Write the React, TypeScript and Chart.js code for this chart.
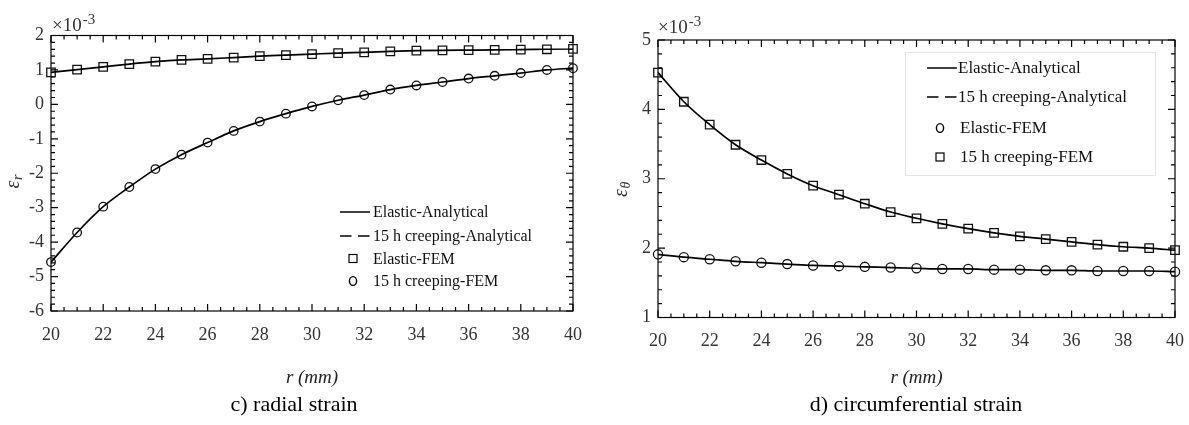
import React, { useEffect, useRef } from 'react';
import { Chart, registerables } from 'chart.js';

Chart.register(...registerables);

// ---------- data ----------
const radiusMm = [20, 21, 22, 23, 24, 25, 26, 27, 28, 29, 30, 31, 32, 33, 34, 35, 36, 37, 38, 39, 40];

// radial strain (x 10^-3)
const radialElasticFEM = [0.93, 1.01, 1.09, 1.17, 1.24, 1.29, 1.32, 1.36, 1.40, 1.43, 1.46, 1.49, 1.51, 1.54, 1.56, 1.57, 1.575, 1.58, 1.59, 1.60, 1.61];
const radialCreepFEM = [-4.58, -3.72, -2.97, -2.40, -1.88, -1.46, -1.11, -0.77, -0.50, -0.27, -0.06, 0.12, 0.27, 0.43, 0.55, 0.65, 0.75, 0.83, 0.91, 1.00, 1.05];
const radialElasticAnalytical = [0.93, 1.01, 1.09, 1.17, 1.24, 1.29, 1.32, 1.36, 1.40, 1.43, 1.46, 1.49, 1.51, 1.54, 1.56, 1.57, 1.575, 1.58, 1.59, 1.60, 1.61];
const radialCreepAnalytical = [-4.58, -3.72, -2.97, -2.40, -1.88, -1.46, -1.11, -0.77, -0.50, -0.27, -0.06, 0.12, 0.27, 0.43, 0.55, 0.65, 0.75, 0.83, 0.91, 1.00, 1.05];

// circumferential strain (x 10^-3)
const hoopElasticFEM = [1.91, 1.87, 1.84, 1.81, 1.79, 1.77, 1.75, 1.74, 1.73, 1.72, 1.71, 1.70, 1.70, 1.69, 1.69, 1.68, 1.68, 1.67, 1.67, 1.67, 1.66];
const hoopCreepFEM = [4.53, 4.11, 3.78, 3.49, 3.27, 3.07, 2.90, 2.77, 2.64, 2.52, 2.43, 2.35, 2.28, 2.22, 2.17, 2.13, 2.09, 2.05, 2.02, 2.00, 1.97];
const hoopElasticAnalytical = [1.91, 1.87, 1.84, 1.81, 1.79, 1.77, 1.75, 1.74, 1.73, 1.72, 1.71, 1.70, 1.70, 1.69, 1.69, 1.68, 1.68, 1.67, 1.67, 1.67, 1.66];
const hoopCreepAnalytical = [4.53, 4.11, 3.78, 3.49, 3.27, 3.07, 2.90, 2.77, 2.64, 2.52, 2.43, 2.35, 2.28, 2.22, 2.17, 2.13, 2.09, 2.05, 2.02, 2.00, 1.97];

const xTickValues = [20, 22, 24, 26, 28, 30, 32, 34, 36, 38, 40];
const radialYTicks = [-6, -5, -4, -3, -2, -1, 0, 1, 2];
const hoopYTicks = [1, 2, 3, 4, 5];
const legendLabels = ['Elastic-Analytical', '15 h creeping-Analytical', 'Elastic-FEM', '15 h creeping-FEM'];

const SERIF = '"Liberation Serif", "Times New Roman", serif';

function pts(ys: number[]) {
  return radiusMm.map((x, i) => ({ x, y: ys[i] }));
}

// ---------- decoration plugin (box, inward ticks, legend, labels) ----------
const decorPlugin = {
  id: 'decor',
  beforeDatasetsDraw(chart: any) {
    const { ctx, chartArea: a, scales } = chart;
    const xs = scales.x;
    const ys = scales.y;
    ctx.save();
    ctx.strokeStyle = '#000';
    ctx.lineWidth = 1.2;
    ctx.strokeRect(a.left, a.top, a.right - a.left, a.bottom - a.top);
    ctx.beginPath();
    const nx = Math.round((xs.max - xs.min) / 0.5);
    for (let i = 0; i <= nx; i++) {
      const v = xs.min + i * 0.5;
      const len = i % 4 === 0 ? 7 : 4;
      const p = xs.getPixelForValue(v);
      ctx.moveTo(p, a.bottom);
      ctx.lineTo(p, a.bottom - len);
      ctx.moveTo(p, a.top);
      ctx.lineTo(p, a.top + len);
    }
    const ny = Math.round((ys.max - ys.min) * 5);
    for (let i = 0; i <= ny; i++) {
      const v = ys.min + i / 5;
      const len = i % 5 === 0 ? 7 : 4;
      const p = ys.getPixelForValue(v);
      ctx.moveTo(a.left, p);
      ctx.lineTo(a.left + len, p);
      ctx.moveTo(a.right, p);
      ctx.lineTo(a.right - len, p);
    }
    ctx.stroke();
    ctx.restore();
  },
  afterDraw(chart: any, _args: any, o: any) {
    const { ctx } = chart;
    ctx.save();
    // legend
    const L = o.legend;
    if (L.frame) {
      ctx.fillStyle = '#fff';
      ctx.fillRect(L.frame.x, L.frame.y, L.frame.w, L.frame.h);
      ctx.strokeStyle = '#e4e4e4';
      ctx.lineWidth = 1;
      ctx.strokeRect(L.frame.x + 0.5, L.frame.y + 0.5, L.frame.w, L.frame.h);
    }
    ctx.font = `${L.fontSize}px ${SERIF}`;
    ctx.textBaseline = 'middle';
    ctx.textAlign = 'left';
    chart.data.datasets.forEach((ds: any, i: number) => {
      const y = L.rows[i];
      ctx.strokeStyle = '#000';
      ctx.lineWidth = 1.5;
      ctx.setLineDash([]);
      let tx = L.textX;
      if (ds.legendKind === 'solid' || ds.legendKind === 'dashed') {
        if (ds.legendKind === 'dashed') ctx.setLineDash([11.5, 6.5]);
        ctx.beginPath();
        ctx.moveTo(L.lineStart, y);
        ctx.lineTo(L.lineEnd, y);
        ctx.stroke();
        ctx.setLineDash([]);
      } else if (ds.legendKind === 'rect') {
        ctx.lineWidth = 1.2;
        ctx.strokeRect(L.markerX - 4, y - 4, 8, 8);
        tx = L.markerTextX;
      } else {
        ctx.lineWidth = 1.4;
        ctx.beginPath();
        ctx.ellipse(L.markerX, y, 3.6, 4.4, 0, 0, Math.PI * 2);
        ctx.stroke();
        tx = L.markerTextX;
      }
      ctx.fillStyle = '#111';
      ctx.fillText(ds.label, tx, y + 1);
    });
    // x10^-3 multiplier
    const M = o.multiplier;
    ctx.fillStyle = '#333';
    ctx.textBaseline = 'alphabetic';
    ctx.font = `19px ${SERIF}`;
    ctx.fillText('\u00d710', M.x, M.y);
    const w = ctx.measureText('\u00d710').width;
    ctx.font = `15px ${SERIF}`;
    ctx.fillText('-3', M.x + w + 1, M.y - 7);
    // y title (rotated)
    const T = o.yTitle;
    ctx.save();
    ctx.translate(T.x, T.y);
    ctx.rotate(-Math.PI / 2);
    ctx.fillStyle = '#333';
    ctx.font = `italic 20px ${SERIF}`;
    ctx.fillText('\u03b5', 0, 0);
    const ew = ctx.measureText('\u03b5').width;
    ctx.font = `italic 14px ${SERIF}`;
    ctx.fillText(T.sub, ew + 0.5, 3);
    ctx.restore();
    // caption
    const C = o.caption;
    ctx.fillStyle = '#000';
    ctx.font = `22px ${SERIF}`;
    ctx.textAlign = 'center';
    ctx.textBaseline = 'middle';
    ctx.fillText(C.text, C.x, C.y);
    ctx.restore();
  },
};

function lineDs(label: string, data: number[], kind: string) {
  return {
    label,
    data: pts(data),
    borderColor: '#000',
    borderWidth: 1.7,
    pointRadius: 0,
    showLine: true,
    cubicInterpolationMode: 'monotone',
    fill: false,
    legendKind: kind,
  };
}

function markerDs(label: string, data: number[], style: string, tall: boolean) {
  return {
    label,
    data: pts(data),
    showLine: false,
    borderColor: '#111',
    backgroundColor: 'rgba(0,0,0,0)',
    borderWidth: 1.3,
    pointStyle: style,
    pointRadius: style === 'rect' ? 6 : tall ? 4.6 : 4.3,
    clip: false,
    legendKind: style,
  };
}

function buildConfig(kind: 'radial' | 'hoop'): any {
  const radial = kind === 'radial';
  const datasets = radial
    ? [
        lineDs(legendLabels[0], radialElasticAnalytical, 'solid'),
        lineDs(legendLabels[1], radialCreepAnalytical, 'dashed'),
        markerDs(legendLabels[2], radialElasticFEM, 'rect', false),
        markerDs(legendLabels[3], radialCreepFEM, 'circle', false),
      ]
    : [
        lineDs(legendLabels[0], hoopElasticAnalytical, 'solid'),
        lineDs(legendLabels[1], hoopCreepAnalytical, 'dashed'),
        markerDs(legendLabels[2], hoopElasticFEM, 'circle', true),
        markerDs(legendLabels[3], hoopCreepFEM, 'rect', true),
      ];
  const yTicks = radial ? radialYTicks : hoopYTicks;
  const yWidth = radial ? 51 : 64;
  const xHeight = radial ? 114 : 107.5;
  return {
    type: 'scatter',
    data: { datasets },
    plugins: [decorPlugin],
    options: {
      animation: false,
      responsive: false,
      maintainAspectRatio: false,
      layout: { padding: radial ? { top: 35.5, right: 21, left: 0, bottom: 0 } : { top: 40, right: 14, left: 0, bottom: 0 } },
      plugins: {
        legend: { display: false },
        tooltip: { enabled: false },
        decor: radial
          ? {
              legend: { rows: [212, 236, 258.5, 281], lineStart: 340, lineEnd: 370, markerX: 353, textX: 373, markerTextX: 373, fontSize: 16 },
              multiplier: { x: 52, y: 30.5 },
              yTitle: { x: 19, y: 188.5, sub: 'r' },
              caption: { text: 'c) radial strain', x: 294, y: 405 },
            }
          : {
              legend: {
                rows: [68, 97, 128, 157],
                lineStart: 333,
                lineEnd: 363,
                markerX: 346,
                textX: 364,
                markerTextX: 366,
                fontSize: 17,
                frame: { x: 311, y: 52, w: 250, h: 123 },
              },
              multiplier: { x: 64, y: 33 },
              yTitle: { x: 33, y: 197, sub: '\u03b8' },
              caption: { text: 'd) circumferential strain', x: 322, y: 405 },
            },
      },
      scales: {
        x: {
          type: 'linear',
          min: 20,
          max: 40,
          afterFit: (s: any) => {
            s.height = xHeight;
          },
          afterBuildTicks: (s: any) => {
            s.ticks = xTickValues.map((v) => ({ value: v }));
          },
          grid: { display: true, drawOnChartArea: false, drawTicks: true, tickLength: 13, color: 'rgba(0,0,0,0)' },
          border: { display: false },
          ticks: {
            padding: 0,
            color: '#333',
            font: { family: SERIF, size: 18 },
            callback: (v: any) => String(v),
            maxRotation: 0,
          },
          title: {
            display: true,
            text: 'r (mm)',
            color: '#222',
            font: { family: SERIF, size: 19, style: 'italic' },
            padding: { top: 0, bottom: 36 },
          },
        },
        y: {
          type: 'linear',
          min: yTicks[0],
          max: yTicks[yTicks.length - 1],
          afterFit: (s: any) => {
            s.width = yWidth;
          },
          afterBuildTicks: (s: any) => {
            s.ticks = yTicks.map((v) => ({ value: v }));
          },
          grid: { display: false, drawTicks: false },
          border: { display: false },
          ticks: {
            padding: 7,
            color: '#333',
            font: { family: SERIF, size: 18 },
            callback: (v: any) => String(v),
          },
        },
      },
    },
  };
}

function StrainChart({ kind, left, width }: { kind: 'radial' | 'hoop'; left: number; width: number }) {
  const ref = useRef<HTMLCanvasElement>(null);
  useEffect(() => {
    const chart = new Chart(ref.current as HTMLCanvasElement, buildConfig(kind));
    return () => chart.destroy();
  }, [kind]);
  return (
    <canvas
      ref={ref}
      width={width}
      height={425}
      style={{ position: 'absolute', left, top: 0, width, height: 425 }}
    />
  );
}

export default function App() {
  return (
    <div style={{ position: 'fixed', left: 0, top: 0, width: 1189, height: 425, background: '#fff', overflow: 'hidden' }}>
      <StrainChart kind="radial" left={0} width={594} />
      <StrainChart kind="hoop" left={594} width={595} />
    </div>
  );
}
